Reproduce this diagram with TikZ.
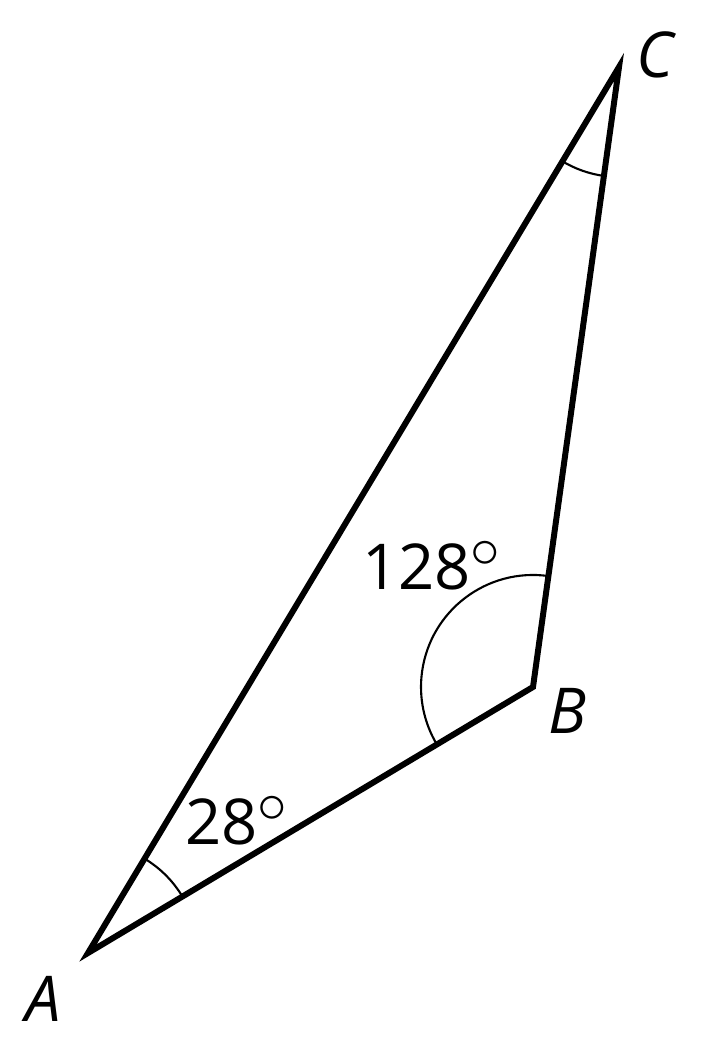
\documentclass[tikz,border=0pt]{standalone}
\usepackage{fontspec}
\setmainfont{Open Sans}
\usetikzlibrary{angles}
\newcommand{\degmark}{$^{\scalebox{1.4}{$\scriptstyle\circ$}}$}

\begin{document}
\begin{tikzpicture}[every node/.style={font=\fontsize{18}{20}\selectfont}]
			\useasboundingbox (0,0) rectangle (7,10.46);
			% Vertices
			\coordinate (A) at (0.88,0.93);
			\coordinate (B) at (5.33,3.59);
			\coordinate (C) at (6.19,9.79);
			% Labels
			\node (lA) at (0.43,0.47) {\itshape A};
			\node (lB) at (5.67,3.35) {\itshape B};
			\node (lC) at (6.55,9.91) {\itshape C};
			% Sides
			\draw[line width=1.7pt, line join=miter] (A) -- (B) -- (C) -- cycle;
			% Angle marks
			\pic[draw, line width=0.6pt, angle radius=1.1cm] {angle = B--A--C};
			\pic[draw, line width=0.6pt, angle radius=1.12cm] {angle = C--B--A};
			\pic[draw, line width=0.6pt, angle radius=1.1cm] {angle = A--C--B};
			% Angle values
			\node (aA) at (2.37,2.25) {28\degmark};
			\node (aB) at (4.32,4.80) {128\degmark};
		\end{tikzpicture}
\end{document}
